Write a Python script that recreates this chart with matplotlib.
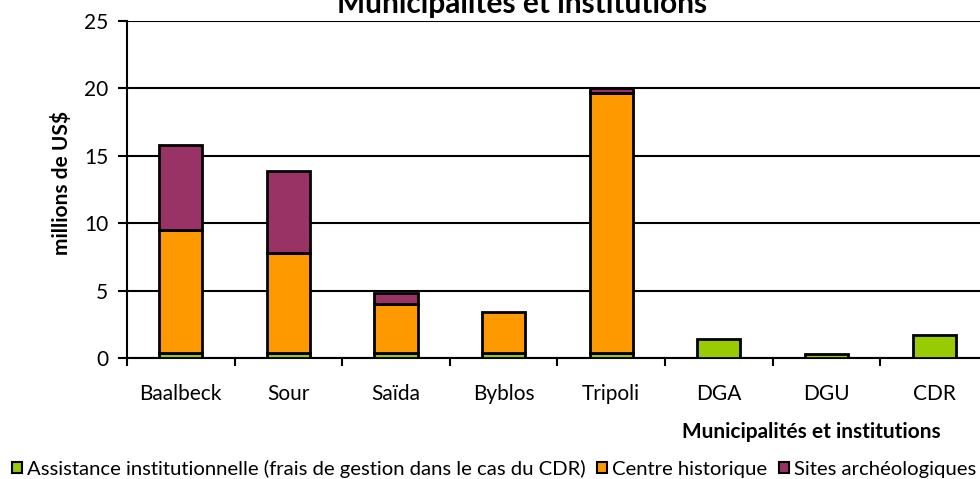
import matplotlib
matplotlib.use("Agg")
import matplotlib.pyplot as plt
from matplotlib.patches import Patch

plt.rcParams['font.family'] = ['Lato', 'DejaVu Sans']

categories = ["Baalbeck", "Sour", "Saïda", "Byblos", "Tripoli", "DGA", "DGU", "CDR"]
assistance = [0.4, 0.4, 0.4, 0.4, 0.4, 1.4, 0.3, 1.7]
centre_hist = [9.1, 7.4, 3.6, 3.05, 19.25, 0, 0, 0]
sites_arch = [6.3, 6.1, 0.85, 0, 0.35, 0, 0, 0]
series_names = ["Assistance institutionnelle (frais de gestion dans le cas du CDR)",
                "Centre historique", "Sites archéologiques"]
colors = ["#99cc00", "#ff9900", "#993366"]

fig = plt.figure(figsize=(9.8, 4.79), dpi=100)
ax = fig.add_axes([0.1296, 0.2526, 0.8784, 0.7035])

x = list(range(len(categories)))
w = 0.4
bottom = [0] * len(categories)
for vals, c in zip([assistance, centre_hist, sites_arch], colors):
    xs = [xi for xi, v in zip(x, vals) if v > 0]
    vs = [v for v in vals if v > 0]
    bs = [b for b, v in zip(bottom, vals) if v > 0]
    ax.bar(xs, vs, width=w, bottom=bs, color=c, edgecolor="black", linewidth=2, zorder=3)
    bottom = [b + v for b, v in zip(bottom, vals)]

ax.set_ylim(0, 25)
ax.set_xlim(-0.5, 7.5)
ax.set_yticks(range(0, 26, 5))
ax.yaxis.grid(True, color="black", linewidth=1.5, zorder=0)
ax.tick_params(axis="y", length=6.5, width=1.5, labelsize=15, pad=7)

ax.set_xticks([i - 0.5 for i in range(len(categories) + 1)])
ax.set_xticklabels([])
ax.set_xticks(x, minor=True)
ax.set_xticklabels(categories, minor=True, fontsize=15)
ax.tick_params(axis="x", which="major", length=6, width=1.5)
ax.tick_params(axis="x", which="minor", length=0, pad=19)

for s in ["top", "right"]:
    ax.spines[s].set_visible(False)
ax.spines["left"].set_linewidth(1.5)
ax.spines["bottom"].set_linewidth(1.5)

ax.set_ylabel("millions de US$", fontsize=15, fontweight="bold")
ax.yaxis.set_label_coords(-0.064, 0.519)
fig.text(0.828, 0.086, "Municipalités et institutions", fontsize=15, fontweight="bold",
         ha="center", va="baseline")
fig.text(0.533, 0.972, "Municipalités et institutions", fontsize=21.5, fontweight="bold",
         ha="center", va="baseline")

handles = [Patch(facecolor=c, edgecolor="black", linewidth=1.5) for c in colors]
fig.legend(handles, series_names, loc="lower left", bbox_to_anchor=(0.0, -0.023), ncol=3,
           frameon=False, fontsize=14.6, handlelength=0.5, handleheight=0.5,
           handletextpad=0.25, columnspacing=0.55, borderaxespad=0.3, borderpad=0.3)

fig.savefig("out.png", dpi=100)
